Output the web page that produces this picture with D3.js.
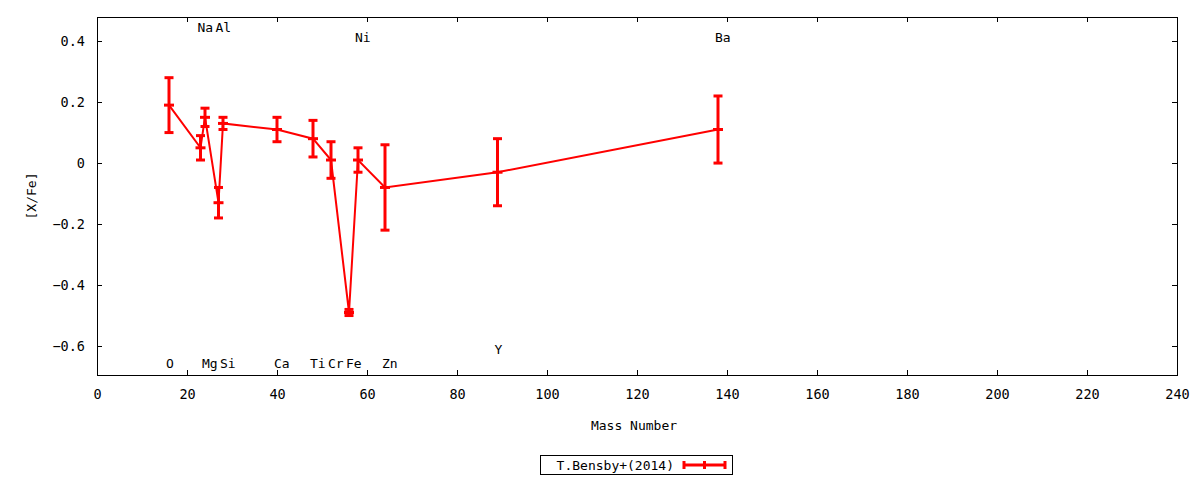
<!DOCTYPE html>
<html>
<head>
<meta charset="utf-8">
<script src="https://cdn.jsdelivr.net/npm/d3@7"></script>
<style>
  body { margin: 0; background: #fff; }
  svg { display: block; }
  text { font-family: "DejaVu Sans Mono", monospace; font-size: 13px; fill: #000; }
</style>
</head>
<body>
<svg id="chart" width="1200" height="480"></svg>
<script>
// Data: mass number, [X/Fe], error
const massNumbers = [16, 23, 24, 27, 28, 40, 48, 52, 56, 58, 64, 89, 138];
const abundances  = [0.19, 0.05, 0.15, -0.13, 0.13, 0.11, 0.08, 0.01, -0.49, 0.01, -0.08, -0.03, 0.11];
const errors      = [0.09, 0.04, 0.03, 0.05, 0.02, 0.04, 0.06, 0.06, 0.01, 0.04, 0.14, 0.11, 0.11];

// Element labels: name, mass, y-position (data coords)
const labelNames = ["O", "Na", "Mg", "Al", "Si", "Ca", "Ti", "Cr", "Fe", "Ni", "Zn", "Y", "Ba"];
const labelMass  = [16, 23, 24, 27, 28, 40, 48, 52, 56, 58, 64, 89, 138];
const labelY     = [-0.656, 0.446, -0.656, 0.446, -0.656, -0.656, -0.656, -0.656, -0.656, 0.413, -0.656, -0.61, 0.413];

const xTicks = [0, 20, 40, 60, 80, 100, 120, 140, 160, 180, 200, 220, 240];
const yTicks = [-0.6, -0.4, -0.2, 0, 0.2, 0.4];
const seriesName = "T.Bensby+(2014)";

const svg = d3.select("#chart");
const L = 97, R = 1177, T = 17, B = 375;
const x = d3.scaleLinear().domain([0, 240]).range([L, R]);
const y = d3.scaleLinear().domain([-0.695, 0.479]).range([B, T]);
const red = "#ff0000";

// Axes with inward ticks
const tickLen = 5;
svg.append("rect").attr("x", L).attr("y", T).attr("width", R - L).attr("height", B - T)
  .attr("fill", "none").attr("stroke", "#000").attr("stroke-width", 1).attr("shape-rendering", "crispEdges");

const xb = svg.append("g").attr("transform", `translate(0,${B})`)
  .call(d3.axisBottom(x).tickValues(xTicks).tickSize(-tickLen).tickPadding(14).tickFormat(d3.format("d")));
const xt = svg.append("g").attr("transform", `translate(0,${T})`)
  .call(d3.axisTop(x).tickValues(xTicks).tickSize(-tickLen).tickFormat(""));
const yl = svg.append("g").attr("transform", `translate(${L},0)`)
  .call(d3.axisLeft(y).tickValues(yTicks).tickSize(-tickLen).tickPadding(12).tickFormat(d => d === 0 ? "0" : d3.format(".1f")(d)));
const yr = svg.append("g").attr("transform", `translate(${R},0)`)
  .call(d3.axisRight(y).tickValues(yTicks).tickSize(-tickLen).tickFormat(""));
[xb, xt, yl, yr].forEach(g => {
  g.select(".domain").remove();
  g.selectAll("line").attr("stroke", "#000").attr("shape-rendering", "crispEdges");
  g.selectAll("text").style("font-family", '"DejaVu Sans Mono", monospace').style("font-size", "13.5px").attr("fill", "#000");
});

// Axis titles
svg.append("text").attr("x", 634).attr("y", 430).attr("text-anchor", "middle").text("Mass Number");
svg.append("text").attr("transform", `translate(36,${(T + B) / 2}) rotate(-90)`)
  .attr("text-anchor", "middle").text("[X/Fe]");

// Element labels
svg.append("g").selectAll("text").data(labelNames).join("text")
  .attr("x", (d, i) => x(labelMass[i]) - 3)
  .attr("y", (d, i) => y(labelY[i]))
  .attr("dy", "0.35em")
  .attr("text-anchor", "start")
  .text(d => d);

// Series
const pts = massNumbers.map((m, i) => ({ m, v: abundances[i], e: errors[i] }));
const line = d3.line().x(d => x(d.m)).y(d => y(d.v));
const gS = svg.append("g");
gS.append("path").datum(pts).attr("d", line).attr("fill", "none").attr("stroke", red).attr("stroke-width", 2);

const capW = 9;
const eb = gS.selectAll("g.eb").data(pts).join("g").attr("class", "eb");
eb.append("line").attr("x1", d => x(d.m)).attr("x2", d => x(d.m))
  .attr("y1", d => y(d.v + d.e)).attr("y2", d => y(d.v - d.e))
  .attr("stroke", red).attr("stroke-width", 3);
eb.append("line").attr("x1", d => x(d.m) - capW / 2).attr("x2", d => x(d.m) + capW / 2)
  .attr("y1", d => y(d.v + d.e)).attr("y2", d => y(d.v + d.e))
  .attr("stroke", red).attr("stroke-width", 3);
eb.append("line").attr("x1", d => x(d.m) - capW / 2).attr("x2", d => x(d.m) + capW / 2)
  .attr("y1", d => y(d.v - d.e)).attr("y2", d => y(d.v - d.e))
  .attr("stroke", red).attr("stroke-width", 3);
// point marker (+)
eb.append("line").attr("x1", d => x(d.m) - 5).attr("x2", d => x(d.m) + 5)
  .attr("y1", d => y(d.v)).attr("y2", d => y(d.v))
  .attr("stroke", red).attr("stroke-width", 3);

// Legend
const lg = svg.append("g");
lg.append("rect").attr("x", 540.5).attr("y", 455.5).attr("width", 192).attr("height", 19)
  .attr("fill", "none").attr("stroke", "#000").attr("stroke-width", 1);
lg.append("text").attr("x", 674).attr("y", 465).attr("dy", "0.35em").attr("text-anchor", "end").text(seriesName);
const lx1 = 684, lx2 = 725, ly = 465;
lg.append("line").attr("x1", lx1).attr("x2", lx2).attr("y1", ly).attr("y2", ly).attr("stroke", red).attr("stroke-width", 3);
[lx1, lx2].forEach(px => lg.append("line").attr("x1", px).attr("x2", px).attr("y1", ly - 4).attr("y2", ly + 4).attr("stroke", red).attr("stroke-width", 3));
lg.append("line").attr("x1", (lx1 + lx2) / 2).attr("x2", (lx1 + lx2) / 2).attr("y1", ly - 4).attr("y2", ly + 4).attr("stroke", red).attr("stroke-width", 3);
</script>
</body>
</html>
